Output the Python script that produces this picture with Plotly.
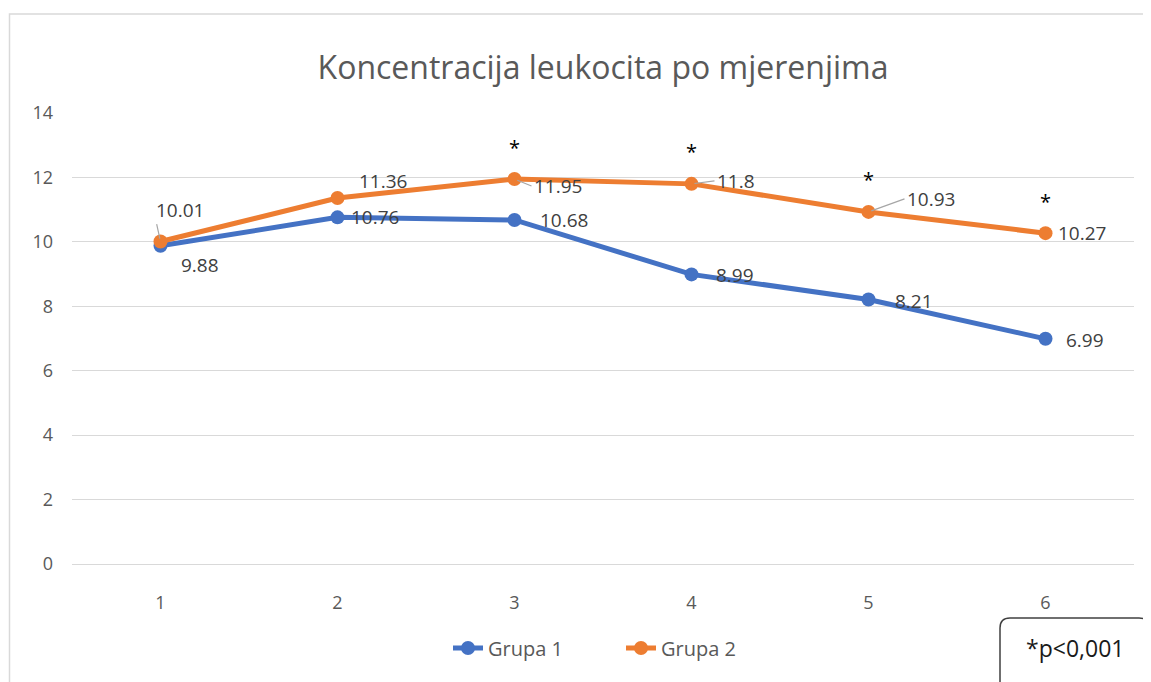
import plotly.graph_objects as go

mjerenja = [1, 2, 3, 4, 5, 6]
grupa1 = [9.88, 10.76, 10.68, 8.99, 8.21, 6.99]
grupa2 = [10.01, 11.36, 11.95, 11.8, 10.93, 10.27]
znacajno = [False, False, True, True, True, True]
y_ticks = [0, 2, 4, 6, 8, 10, 12, 14]
naslov = "Koncentracija leukocita po mjerenjima"
napomena = "*p<0,001"

BLUE = "#4472C4"
ORANGE = "#ED7D31"
LABEL = "#404040"
FONT = "Open Sans"
BODY = 8  # default page margin of the html body

fig = go.Figure()
fig.add_trace(go.Scatter(x=mjerenja, y=grupa1, name="Grupa 1", mode="lines+markers",
                         line=dict(color=BLUE, width=5), marker=dict(color=BLUE, size=14)))
fig.add_trace(go.Scatter(x=mjerenja, y=grupa2, name="Grupa 2", mode="lines+markers",
                         line=dict(color=ORANGE, width=5), marker=dict(color=ORANGE, size=14)))

# label offsets in pixels (left edge of text relative to point, up positive) and leader flags
off1 = [(18, -19), (11, 0), (23, 0), (22, -1), (24, -1), (18, -1)]
off2 = [(-7, 32), (19, 17), (17, -7), (23, 3), (36, 13), (10, 0)]
lead2 = [True, False, True, True, True, False]

anns = []
for xs, ys, offs, leads in [(mjerenja, grupa1, off1, [False] * 6), (mjerenja, grupa2, off2, lead2)]:
    for xv, yv, (dx, dy), ld in zip(xs, ys, offs, leads):
        anns.append(dict(x=xv, y=yv, xref="x", yref="y", text=f"{yv:g}",
                         showarrow=True, ax=dx, ay=-dy, axref="pixel", ayref="pixel",
                         xanchor="left", yanchor="middle",
                         arrowhead=0, arrowwidth=1.2, standoff=3,
                         arrowcolor="#A6A6A6" if ld else "rgba(0,0,0,0)",
                         font=dict(family=FONT, size=19, color=LABEL)))

for xv, yv, s in zip(mjerenja, grupa2, znacajno):
    if s:
        anns.append(dict(x=xv, y=yv, xref="x", yref="y", text="*", showarrow=False,
                         yshift=32, font=dict(family=FONT, size=20, color="#000000")))


def px_x(p):
    return (p - 72) / 1062


def px_y(p):
    return (564 - p) / 451


# p-value note
anns.append(dict(x=px_x(1075), y=px_y(648), xref="paper", yref="paper",
                 text=napomena, showarrow=False, xanchor="center", yanchor="middle",
                 font=dict(family=FONT, size=23, color="#1a1a1a")))

x0, x1, y0, y1 = px_x(1000), px_x(1149), px_y(618), px_y(684)
rx, ry = 10 / 1062, 10 / 451
box_path = (f"M {x0} {y1} L {x0} {y0 - ry} Q {x0} {y0} {x0 + rx} {y0} "
            f"L {x1 - rx} {y0} Q {x1} {y0} {x1} {y0 - ry} L {x1} {y1}")

shapes = [
    dict(type="rect", xref="paper", yref="paper", x0=px_x(9.5), x1=px_x(1170), y0=px_y(14), y1=px_y(700),
         line=dict(color="#D9D9D9", width=1.5), layer="below"),
    dict(type="path", xref="paper", yref="paper", path=box_path,
         line=dict(color="#404040", width=1.5)),
]

fig.update_layout(
    width=1151, height=682,
    margin=dict(l=72 - BODY, r=17 + BODY, t=113 - BODY, b=118 + BODY),
    paper_bgcolor="white", plot_bgcolor="white",
    title=dict(text=naslov, x=0.5, xref="paper", y=1 - (68 - BODY) / 682, yref="container",
               xanchor="center", yanchor="middle",
               font=dict(family=FONT, size=32, color="#595959")),
    font=dict(family=FONT, color="#595959"),
    xaxis=dict(range=[0.5, 6.5], tickvals=mjerenja, showgrid=False, zeroline=False,
               showline=True, linecolor="#D9D9D9", linewidth=1,
               ticks="", ticklabelstandoff=22, tickfont=dict(size=18, color="#595959")),
    yaxis=dict(range=[0, 14], tickvals=y_ticks, showgrid=True, gridcolor="#D9D9D9", gridwidth=1,
               zeroline=False, showline=False, ticks="", ticklabelstandoff=18,
               tickfont=dict(size=18, color="#595959")),
    legend=dict(orientation="h", x=px_x(448), xanchor="left", y=px_y(648), yanchor="middle",
                font=dict(family=FONT, size=20, color="#595959"), entrywidth=128,
                entrywidthmode="pixels"),
    annotations=anns,
    shapes=shapes,
)

fig.write_html("out.html")
